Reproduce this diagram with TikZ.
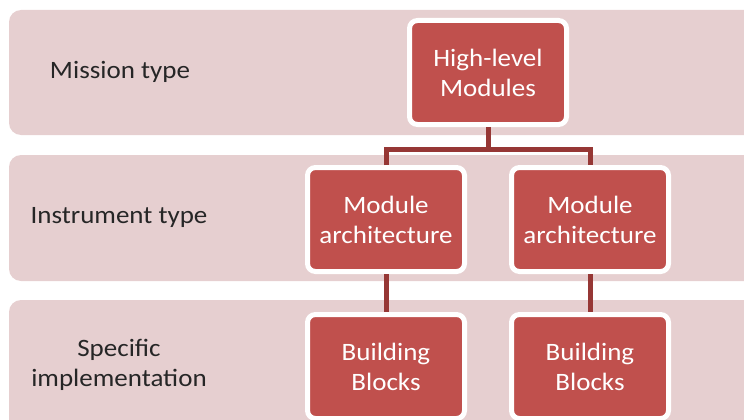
\documentclass[tikz,border=0pt]{standalone}
\usepackage{fontspec}
\setmainfont{Carlito}[FakeStretch=1.08]
\definecolor{bandpink}{RGB}{230,207,208}
\definecolor{boxred}{RGB}{192,80,77}
\definecolor{connred}{RGB}{150,55,53}
\definecolor{labelgray}{RGB}{38,38,38}
\begin{document}
\begin{tikzpicture}[x=1pt,y=-1pt,
  band/.style={fill=bandpink, rounded corners=12pt},
  box/.style={draw=white, line width=5pt, fill=boxred, rounded corners=8pt,
    minimum width=157pt, minimum height=104pt, text=white, align=center,
    font=\fontsize{25}{30}\selectfont, inner sep=0pt},
  lbl/.style={text=labelgray, align=center, font=\fontsize{25}{30}\selectfont},
  conn/.style={draw=connred, line width=5pt}]
\useasboundingbox (0,0) rectangle (744,420);
\clip (0,0) rectangle (744,420);
\path[band] (9,10) rectangle (770,135);
\path[band] (9,155) rectangle (770,281);
\path[band] (9,300) rectangle (770,450);

\node[lbl] (l1) at (120,72) {Mission type};
\node[lbl] (l2) at (119,217) {Instrument type};
\node[lbl] (l3) at (119,365) {Specific\\implementation};

\node[box] (top) at (488,72.5) {High-level\\Modules};
\node[box] (m1) at (386,219.5) {Module\\architecture};
\node[box] (m2) at (590,219.5) {Module\\architecture};
\node[box] (b1) at (386,366.5) {Building\\Blocks};
\node[box] (b2) at (590,366.5) {Building\\Blocks};

\coordinate (j) at (488,149);
\draw[conn] (top.south) -- (j);
\draw[conn] (m1.north) |- (j) -| (m2.north);
\draw[conn] (m1.south) -- (b1.north);
\draw[conn] (m2.south) -- (b2.north);
\end{tikzpicture}
\end{document}
